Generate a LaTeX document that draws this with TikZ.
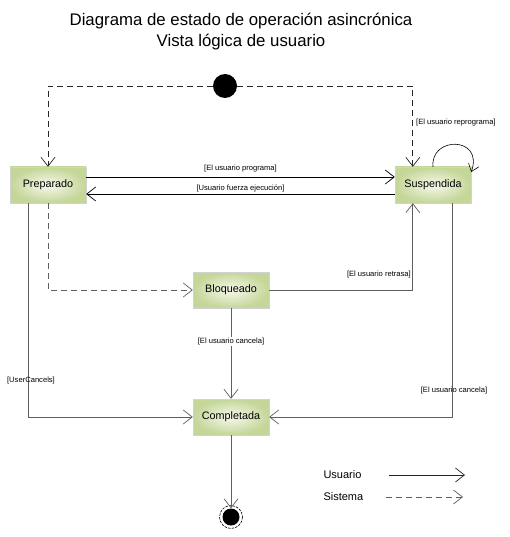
\documentclass[tikz,border=0pt]{standalone}
\usepackage{fontspec}
\setmainfont{Liberation Sans}
\usetikzlibrary{arrows.meta}
\definecolor{boxout}{RGB}{196,214,152}
\definecolor{boxin}{RGB}{246,249,236}
\definecolor{lgray}{RGB}{95,95,95}
\tikzset{
  state/.style={rectangle, minimum width=76pt, minimum height=36pt, inner sep=0pt,
    inner color=boxin, outer color=boxout, draw=gray!35, line width=0.4pt,
    font=\fontsize{10.8}{12}\selectfont},
  lbl/.style={font=\fontsize{7.6}{9}\selectfont, inner sep=1pt, text=black},
  tip/.style={-{Straight Barb[length=9pt,width=14pt,line width=0.7pt]}},
  usr/.style={tip, line width=0.8pt, black},
  usrg/.style={tip, line width=0.8pt, lgray},
  sys/.style={tip, line width=0.8pt, dash pattern=on 6pt off 4pt},
}
\begin{document}
\begin{tikzpicture}[x=1pt,y=-1pt]
\useasboundingbox (0,0) rectangle (510,537);
% title
\node[align=center, font=\fontsize{16.8}{21}\selectfont] (title) at (241,32)
  {Diagrama de estado de operación asincrónica\\Vista lógica de usuario};
% nodes
\node[circle, fill=black, minimum size=24pt, inner sep=0pt] (init) at (225,86) {};
\node[state] (prep) at (48,185) {Preparado};
\node[state] (susp) at (433,185) {Suspendida};
\node[state] (bloq) at (231,290) {Bloqueado};
\node[state] (comp) at (231,417) {Completada};
\node[circle, fill=black, minimum size=17pt, inner sep=0pt] (final) at (231,517) {};
\draw[dash pattern=on 2.5pt off 1.2pt, line width=0.6pt] (final.center) circle (11.5);
% initial dashed
\draw[sys, black!85] (init.west) -| (prep.north);
\draw[sys, black!85] (init.east) -| ([xshift=18pt]susp.north west);
\node[lbl, anchor=west] (lreprog) at (415,123) {[El usuario reprograma]};
% self loop
\draw[-{Straight Barb[length=7pt,width=11pt,line width=0.6pt]}, line width=0.6pt]
  (susp.north) .. controls (430,136) and (484,136) .. ([yshift=13pt]susp.east);
% programa / fuerza
\draw[usr] ([yshift=8pt]prep.east) -- node[lbl, above=4pt] (lprog) {[El usuario programa]} ([yshift=8pt]susp.west);
\draw[usr] ([yshift=-9pt]susp.west) -- node[lbl, above=1pt] (lfuerza) {[Usuario fuerza ejecución]} ([yshift=-9pt]prep.east);
% preparado -> bloqueado dashed
\draw[sys, lgray] (prep.south) |- (bloq.west);
% bloqueado -> suspendida
\draw[usrg] (bloq.east) -| ([xshift=18pt]susp.south west);
\node[lbl, anchor=east] (lretr) at (412,275) {[El usuario retrasa]};
% bloqueado -> completada
\draw[usrg] (bloq.south) -- node[lbl, fill=white, pos=0.37] (lcanc1) {[El usuario cancela]} (comp.north);
% preparado -> completada
\draw[usrg] ([xshift=19pt]prep.south west) |- (comp.west);
\node[lbl] (luser) at (31,381) {[UserCancels]};
% suspendida -> completada
\draw[usrg] ([xshift=-19pt]susp.south east) |- (comp.east);
\node[lbl] (lcanc2) at (454,391) {[El usuario cancela]};
% completada -> final
\draw[usrg] (comp.south) -- (final.north);
% legend
\node[anchor=west, font=\fontsize{11}{13}\selectfont] (lu) at (320,475) {Usuario};
\node[anchor=west, font=\fontsize{11}{13}\selectfont] (ls) at (320,497) {Sistema};
\coordinate (u1) at (389,475); \coordinate (u2) at (465,475);
\coordinate (s1) at (386,497); \coordinate (s2) at (463,497);
\draw[usr, black!85] (u1) -- (u2);
\draw[sys, lgray] (s1) -- (s2);
\end{tikzpicture}
\end{document}
